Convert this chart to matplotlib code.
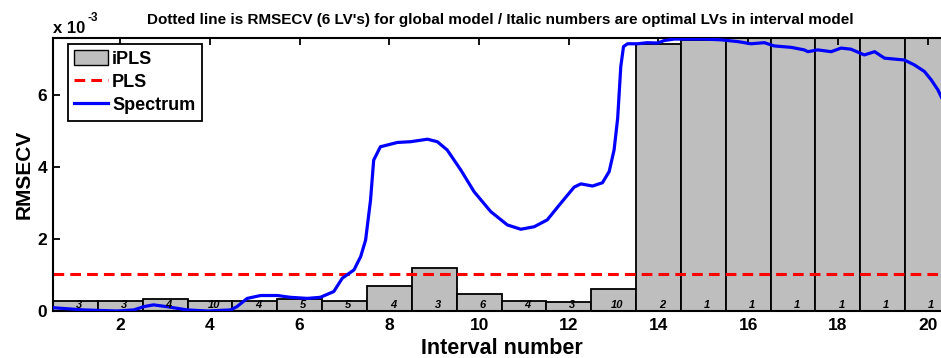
import matplotlib
matplotlib.use("Agg")
import matplotlib.pyplot as plt
from matplotlib.patches import Patch
from matplotlib.lines import Line2D

plt.rcParams['font.family'] = ['Liberation Sans', 'DejaVu Sans']
plt.rcParams['font.weight'] = 'bold'

intervals = list(range(1, 21))
rmsecv = [0.29, 0.29, 0.33, 0.29, 0.29, 0.34, 0.29, 0.69, 1.19, 0.46,
          0.29, 0.26, 0.60, 7.41, 7.53, 7.70, 7.70, 7.70, 7.70, 7.70]  # x 1e-3
lvs = [3, 3, 4, 10, 4, 5, 5, 4, 3, 6, 4, 3, 10, 2, 1, 1, 1, 1, 1, 1]
pls_rmsecv = 1.03  # x 1e-3

spec_x = [0.51, 1.18, 1.93, 2.30, 2.52, 2.74, 3.04, 3.49, 3.94, 4.46, 4.60, 4.83,
          5.13, 5.50, 5.79, 6.17, 6.46, 6.76, 6.95, 7.21, 7.36, 7.47, 7.58, 7.65,
          7.80, 8.18, 8.47, 8.85, 9.07, 9.29, 9.59, 9.89, 10.26, 10.63, 10.93,
          11.23, 11.52, 11.82, 12.12, 12.27, 12.53, 12.75, 12.90, 13.01, 13.09,
          13.16, 13.22, 13.31, 13.53, 13.75, 13.98, 14.13, 14.35, 14.72, 15.02,
          15.39, 15.77, 16.06, 16.36, 16.58, 16.96, 17.25, 17.33, 17.55, 17.85,
          18.07, 18.29, 18.59, 18.82, 19.04, 19.48, 19.71, 19.93, 20.08, 20.23,
          20.40]
spec_y = [0.09, 0.03, 0.00, 0.03, 0.12, 0.17, 0.12, 0.03, 0.00, 0.03, 0.12, 0.35,
          0.43, 0.43, 0.38, 0.35, 0.38, 0.54, 0.91, 1.14, 1.51, 1.97, 3.08, 4.19,
          4.56, 4.68, 4.70, 4.77, 4.70, 4.47, 3.92, 3.31, 2.76, 2.39, 2.27,
          2.34, 2.53, 2.99, 3.44, 3.53, 3.47, 3.56, 3.87, 4.47, 5.35,
          6.79, 7.34, 7.42, 7.42, 7.45, 7.44, 7.51, 7.55, 7.55, 7.55,
          7.53, 7.48, 7.42, 7.45, 7.36, 7.32, 7.25, 7.20, 7.25, 7.20,
          7.30, 7.27, 7.11, 7.20, 7.02, 6.97, 6.83, 6.65, 6.42, 6.14,
          5.70]

W, H = 941, 358
fig = plt.figure(figsize=(W / 100, H / 100), dpi=100)
left, right, top, bottom = 53, 950, 38, 311
ax = fig.add_axes([left / W, 1 - bottom / H, (right - left) / W, (bottom - top) / H])

ax.bar(intervals, rmsecv, width=1.0, color='#bebebe', edgecolor='black', linewidth=1.3, zorder=1)
ax.axhline(pls_rmsecv, color='red', linestyle=(0, (3.5, 2)), linewidth=2.2, zorder=2)
ax.plot(spec_x, spec_y, color='blue', linewidth=2.3, zorder=3)
for i, lv in zip(intervals, lvs):
    ax.text(i + 0.08, 0.17, str(lv), ha='center', va='center', fontsize=8,
            fontstyle='italic', fontweight='bold', zorder=4)

ax.set_xlim(0.5, 20.5)
ax.set_ylim(0, 7.58)
ax.set_xticks([2, 4, 6, 8, 10, 12, 14, 16, 18, 20])
ax.set_yticks([0, 2, 4, 6])
ax.tick_params(direction='in', top=True, bottom=False, right=False, length=5, width=1.3,
               labelsize=12.5)
ax.tick_params(axis='x', pad=5, labelbottom=True)
ax.tick_params(axis='y', pad=4)
for lbl in ax.get_xticklabels() + ax.get_yticklabels():
    lbl.set_fontweight('bold')
for s in ax.spines.values():
    s.set_linewidth(1.5)

ax.set_xlabel('Interval number', fontsize=15.5, fontweight='bold', labelpad=4)
ax.set_ylabel('RMSECV', fontsize=15, fontweight='bold', labelpad=3)

fig.text(53 / W, 1 - 33 / H, 'x 10', fontsize=12, fontweight='bold', ha='left', va='baseline')
fig.text(87 / W, 1 - 21 / H, '-3', fontsize=8.5, fontweight='bold', ha='left', va='baseline')
fig.text(500 / W, 1 - 20 / H,
         "Dotted line is RMSECV (6 LV's) for global model / Italic numbers are optimal LVs in interval model",
         fontsize=11, fontweight='bold', ha='center', va='center')

handles = [Patch(facecolor='#bebebe', edgecolor='black', linewidth=1.0),
           Line2D([], [], color='red', linestyle=(0, (3.5, 2)), linewidth=2.2),
           Line2D([], [], color='blue', linewidth=2.3)]
leg = ax.legend(handles, ['iPLS', 'PLS', 'Spectrum'], loc='upper left',
                bbox_to_anchor=(68 / W, 1 - 44 / H), bbox_transform=fig.transFigure,
                prop={'weight': 'bold', 'size': 13}, fancybox=False, framealpha=1,
                edgecolor='black', borderpad=0.35, labelspacing=0.3, handlelength=1.85,
                handleheight=0.9, handletextpad=0.25, borderaxespad=0)
leg.get_frame().set_linewidth(1.3)

fig.savefig('out.png', dpi=100)
